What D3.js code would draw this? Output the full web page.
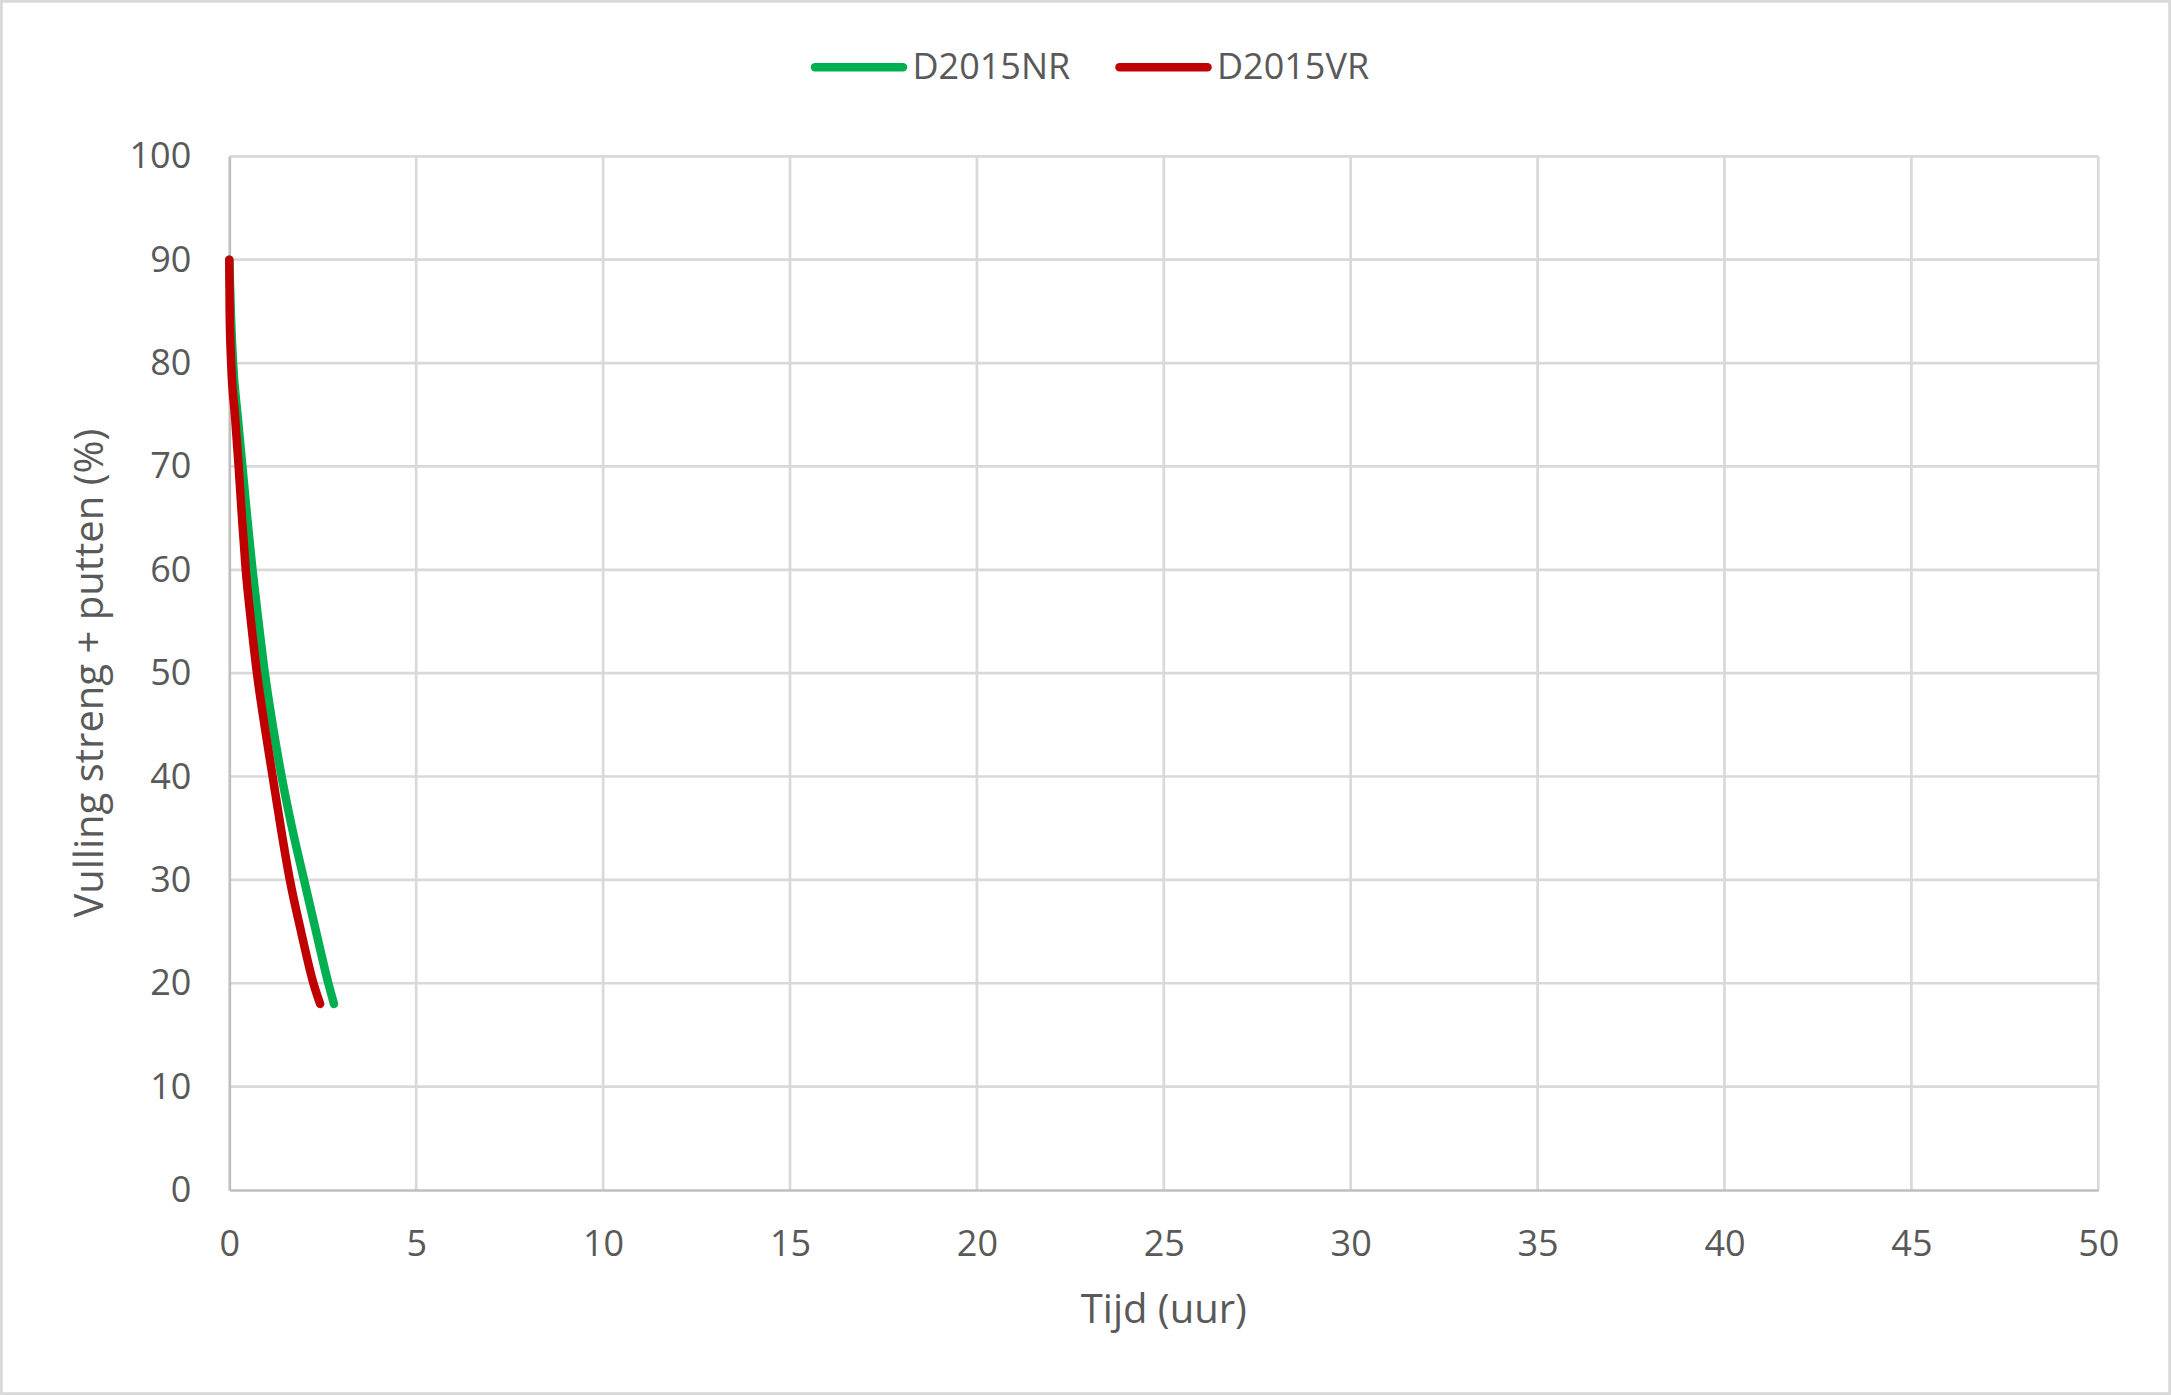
<!DOCTYPE html>
<html>
<head>
<meta charset="utf-8">
<script src="https://cdn.jsdelivr.net/npm/d3@7"></script>
<style>
  html, body { margin: 0; padding: 0; background: #fff; }
  svg { display: block; }
  text { font-family: "Open Sans", sans-serif; fill: #595959; }
</style>
</head>
<body>
<svg id="chart" width="2171" height="1395"></svg>
<script>
// ---- data ----
const xTicks = [0, 5, 10, 15, 20, 25, 30, 35, 40, 45, 50];
const yTicks = [0, 10, 20, 30, 40, 50, 60, 70, 80, 90, 100];
const seriesNames = ["D2015NR", "D2015VR"];
const seriesColors = ["#00b050", "#c00000"];
const timeNR  = [0, 0.04, 0.10, 0.22, 0.35, 0.48, 0.62, 0.78, 0.95, 1.16, 1.40, 1.68, 2.00, 2.32, 2.65, 2.80];
const valueNR = [90, 85, 80, 75, 70, 65, 60, 55, 50, 45, 40, 35, 30, 25, 20, 18];
const timeVR  = [0, 0.01, 0.05, 0.15, 0.25, 0.34, 0.44, 0.58, 0.74, 0.94, 1.16, 1.38, 1.62, 1.92, 2.25, 2.43];
const valueVR = [90, 85, 80, 75, 70, 65, 60, 55, 50, 45, 40, 35, 30, 25, 20, 18];
const xTitle = "Tijd (uur)";
const yTitle = "Vulling streng + putten (%)";

// ---- layout ----
const W = 2171, H = 1395;
const pLeft = 229.3, pRight = 2098.3, pTop = 156.3, pBottom = 1190;

const svg = d3.select("#chart");
svg.append("rect").attr("x", 0).attr("y", 0).attr("width", W).attr("height", H).attr("fill", "#fff");
svg.append("rect").attr("x", 1.4).attr("y", 1.4).attr("width", W - 2.8).attr("height", H - 2.8)
  .attr("fill", "none").attr("stroke", "#d9d9d9").attr("stroke-width", 2.7);

const x = d3.scaleLinear().domain([0, 50]).range([pLeft, pRight]);
const y = d3.scaleLinear().domain([0, 100]).range([pBottom, pTop]);

// gridlines
const grid = svg.append("g");
grid.selectAll("line.h").data(yTicks.filter(d => d > 0)).join("line")
  .attr("class", "h")
  .attr("x1", pLeft).attr("x2", pRight)
  .attr("y1", d => y(d)).attr("y2", d => y(d))
  .attr("stroke", "#d9d9d9").attr("stroke-width", 2.7);
grid.selectAll("line.v").data(xTicks.filter(d => d > 0)).join("line")
  .attr("class", "v")
  .attr("y1", pTop).attr("y2", pBottom)
  .attr("x1", d => x(d)).attr("x2", d => x(d))
  .attr("stroke", "#d9d9d9").attr("stroke-width", 2.7);

// axes
const yAxis = svg.append("g").attr("transform", `translate(${pLeft},0)`)
  .call(d3.axisLeft(y).tickValues(yTicks).tickSize(0).tickPadding(38).tickFormat(d3.format("d")));
const xAxis = svg.append("g").attr("transform", `translate(0,${pBottom})`)
  .call(d3.axisBottom(x).tickValues(xTicks).tickSize(0).tickPadding(40).tickFormat(d3.format("d")));
[yAxis, xAxis].forEach(g => {
  g.select(".domain").attr("stroke", "#bfbfbf").attr("stroke-width", 2.7);
  g.selectAll("text").attr("font-size", 36).attr("fill", "#595959")
    .style("font-family", '"Open Sans", sans-serif');
});

// axis titles
svg.append("text").attr("x", (pLeft + pRight) / 2).attr("y", 1323)
  .attr("text-anchor", "middle").attr("font-size", 40).text(xTitle);
svg.append("text").attr("transform", `translate(103,${(pTop + pBottom) / 2}) rotate(-90)`)
  .attr("text-anchor", "middle").attr("font-size", 40).text(yTitle);

// series
const seriesData = [
  timeNR.map((t, i) => ({ t, v: valueNR[i] })),
  timeVR.map((t, i) => ({ t, v: valueVR[i] }))
];
const line = d3.line().x(d => x(d.t)).y(d => y(d.v)).curve(d3.curveMonotoneX);
svg.append("g").selectAll("path").data(seriesData).join("path")
  .attr("d", line)
  .attr("fill", "none")
  .attr("stroke", (d, i) => seriesColors[i])
  .attr("stroke-width", 8.5)
  .attr("stroke-linecap", "round")
  .attr("stroke-linejoin", "round");

// legend
const legendX = [815, 1119.5];
const legend = svg.append("g");
seriesNames.forEach((name, i) => {
  legend.append("line")
    .attr("x1", legendX[i]).attr("x2", legendX[i] + 88)
    .attr("y1", 67.3).attr("y2", 67.3)
    .attr("stroke", seriesColors[i]).attr("stroke-width", 8.5).attr("stroke-linecap", "round");
  legend.append("text")
    .attr("x", legendX[i] + 97.5).attr("y", 79.3)
    .attr("font-size", 36).text(name);
});
</script>
</body>
</html>
